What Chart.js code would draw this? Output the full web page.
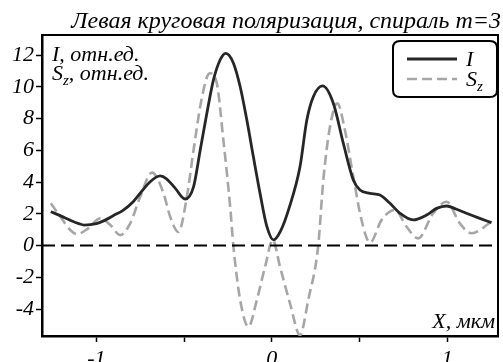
<!DOCTYPE html>
<html>
<head>
<meta charset="utf-8">
<script src="https://cdn.jsdelivr.net/npm/chart.js@4.4.1/dist/chart.umd.min.js"></script>
<style>
html,body{margin:0;padding:0;background:#fff;}
canvas{display:block;}
</style>
</head>
<body>
<canvas id="c" width="503" height="362"></canvas>
<script>
// ---- Data ----
const titleText = "Левая круговая поляризация, спираль m=3";
const seriesNames = ["I", "S_z"];
const axisXLabel = "X, мкм";
const axisYLabels = ["I, отн.ед.", "S_z, отн.ед."];

const xTicks = [-1, -0.5, 0, 0.5, 1];
const xTickLabels = ["-1", "", "0", "", "1"];
const yTicks = [-4, -2, 0, 2, 4, 6, 8, 10, 12];

const iX = [-1.26,-1.2,-1.15,-1.1,-1.07,-1.0,-0.95,-0.9,-0.85,-0.79,-0.75,-0.693,-0.636,-0.6,-0.55,-0.494,-0.446,-0.408,-0.37,-0.333,-0.294,-0.262,-0.219,-0.18,-0.142,-0.105,-0.067,-0.028,0.01,0.05,0.1,0.161,0.2,0.237,0.29,0.351,0.408,0.465,0.503,0.56,0.617,0.674,0.731,0.806,0.883,0.94,0.997,1.05,1.11,1.186,1.253];
const iY = [2.13,1.85,1.6,1.38,1.29,1.38,1.6,1.9,2.2,2.76,3.29,4.02,4.38,4.2,3.6,2.93,3.7,6.0,8.33,10.4,11.7,12.1,11.5,10.0,7.9,5.6,3.3,1.2,0.35,0.9,2.4,4.96,7.9,9.37,10.05,8.96,6.44,4.13,3.5,3.29,3.18,2.66,2.03,1.61,1.92,2.34,2.49,2.3,2.03,1.71,1.44];

const sX = [-1.26,-1.205,-1.149,-1.11,-1.05,-0.978,-0.92,-0.864,-0.807,-0.75,-0.683,-0.617,-0.579,-0.532,-0.484,-0.446,-0.408,-0.37,-0.351,-0.313,-0.276,-0.237,-0.219,-0.18,-0.133,-0.085,-0.038,0.006,0.047,0.104,0.161,0.208,0.265,0.294,0.332,0.374,0.417,0.465,0.512,0.56,0.626,0.702,0.769,0.835,0.92,0.997,1.072,1.139,1.253];
const sY = [2.66,1.81,0.98,0.72,1.05,1.71,1.29,0.66,1.4,3.07,4.59,3.29,1.81,0.85,3.07,6.0,8.74,10.6,10.85,10.2,6.65,2.44,0,-3.43,-5.11,-3.43,-1.33,0.35,-1.33,-3.64,-5.64,-3.43,0,4.13,7.48,8.96,7.28,4.33,1.6,0.18,1.6,2.24,1.18,0.45,2.03,2.76,1.4,0.77,1.5];

const xMin = -1.31, xMax = 1.29;
const yMin = -5.7, yMax = 13.26;
const zeroX = [xMin, xMax];
const zeroY = [0, 0];

const toPts = (xs, ys) => xs.map((x, k) => ({x: x, y: ys[k]}));

const FONT = "'Liberation Serif', 'Times New Roman', serif";

function drawSubText(ctx, text, x, y, size) {
  const parts = text.split("_");
  ctx.font = "italic " + size + "px " + FONT;
  if (parts.length === 1) { ctx.fillText(text, x, y); return; }
  ctx.fillText(parts[0], x, y);
  let cx = x + ctx.measureText(parts[0]).width;
  const sub = parts[1].charAt(0);
  const rest = parts[1].slice(1);
  ctx.font = "italic " + Math.round(size * 0.7) + "px " + FONT;
  ctx.fillText(sub, cx, y + size * 0.22);
  cx += ctx.measureText(sub).width;
  ctx.font = "italic " + size + "px " + FONT;
  ctx.fillText(rest, cx, y);
}

const decor = {
  id: 'decor',
  afterDraw(chart) {
    const ctx = chart.ctx;
    const a = chart.chartArea;
    ctx.save();
    // top & right frame
    ctx.strokeStyle = '#000';
    ctx.lineWidth = 2;
    ctx.beginPath();
    ctx.moveTo(a.left, a.top);
    ctx.lineTo(a.right, a.top);
    ctx.lineTo(a.right, a.bottom);
    ctx.stroke();
    // title
    ctx.fillStyle = '#000';
    ctx.textBaseline = 'alphabetic';
    ctx.textAlign = 'right';
    ctx.font = "italic 24px " + FONT;
    ctx.fillText(titleText, 501, 28);
    // axis annotations
    ctx.textAlign = 'left';
    drawSubText(ctx, axisYLabels[0], 52, 61, 22);
    drawSubText(ctx, axisYLabels[1], 52, 80, 22);
    ctx.textAlign = 'right';
    ctx.font = "italic 22px " + FONT;
    ctx.fillText(axisXLabel, 495, 328);
    // legend box
    const bx = 393, by = 41, bw = 104, bh = 56, r = 7;
    ctx.lineWidth = 2;
    ctx.beginPath();
    ctx.moveTo(bx + r, by);
    ctx.lineTo(bx + bw - r, by);
    ctx.quadraticCurveTo(bx + bw, by, bx + bw, by + r);
    ctx.lineTo(bx + bw, by + bh - r);
    ctx.quadraticCurveTo(bx + bw, by + bh, bx + bw - r, by + bh);
    ctx.lineTo(bx + r, by + bh);
    ctx.quadraticCurveTo(bx, by + bh, bx, by + bh - r);
    ctx.lineTo(bx, by + r);
    ctx.quadraticCurveTo(bx, by, bx + r, by);
    ctx.fillStyle = '#fff';
    ctx.fill();
    ctx.stroke();
    const ds = chart.data.datasets.filter(d => d.inLegend);
    ds.forEach((d, k) => {
      const ly = 59 + k * 20;
      ctx.strokeStyle = d.borderColor;
      ctx.lineWidth = d.borderWidth;
      ctx.setLineDash(d.borderDash || []);
      ctx.beginPath();
      ctx.moveTo(407, ly);
      ctx.lineTo(457, ly);
      ctx.stroke();
      ctx.setLineDash([]);
      ctx.fillStyle = '#000';
      ctx.textAlign = 'left';
      drawSubText(ctx, d.label, 466, ly + 7, 22);
    });
    ctx.restore();
  }
};

new Chart(document.getElementById('c'), {
  type: 'line',
  data: {
    datasets: [
      {
        label: seriesNames[0], inLegend: true,
        data: toPts(iX, iY),
        borderColor: '#262626', borderWidth: 2.8,
        pointRadius: 0, cubicInterpolationMode: 'monotone', order: 1
      },
      {
        label: seriesNames[1], inLegend: true,
        data: toPts(sX, sY),
        borderColor: '#a6a6a6', borderWidth: 2.6, borderDash: [10, 5],
        pointRadius: 0, cubicInterpolationMode: 'monotone', order: 2
      },
      {
        label: 'zero', inLegend: false,
        data: toPts(zeroX, zeroY),
        borderColor: '#000', borderWidth: 2, borderDash: [13, 6],
        pointRadius: 0, order: 0
      }
    ]
  },
  options: {
    responsive: false,
    animation: false,
    devicePixelRatio: 1,
    layout: { padding: { top: 35, right: 5, left: 0, bottom: 0 } },
    plugins: { legend: { display: false }, tooltip: { enabled: false }, title: { display: false } },
    scales: {
      x: {
        type: 'linear', min: xMin, max: xMax,
        afterFit(s) { s.height = 26; },
        afterBuildTicks(s) { s.ticks = xTicks.map(v => ({value: v})); },
        ticks: {
          includeBounds: false, autoSkip: false, maxRotation: 0,
          color: '#000', padding: 4,
          font: { family: FONT, style: 'italic', size: 22 },
          callback(v) { const k = xTicks.indexOf(v); return k >= 0 ? xTickLabels[k] : ''; }
        },
        grid: { display: true, drawOnChartArea: false, drawTicks: true, tickLength: 6, tickWidth: 1.5, tickColor: '#000' },
        border: { display: true, color: '#000', width: 2.5 }
      },
      y: {
        type: 'linear', min: yMin, max: yMax,
        afterFit(s) { s.width = 42; },
        afterBuildTicks(s) { s.ticks = yTicks.map(v => ({value: v})); },
        ticks: {
          includeBounds: false, autoSkip: false,
          color: '#000', padding: 2,
          font: { family: FONT, style: 'italic', size: 22 },
          callback(v) { return String(v); }
        },
        grid: { display: true, drawOnChartArea: false, drawTicks: true, tickLength: 6, tickWidth: 1.5, tickColor: '#000' },
        border: { display: true, color: '#000', width: 2.5 }
      }
    }
  },
  plugins: [decor]
});
</script>
</body>
</html>
